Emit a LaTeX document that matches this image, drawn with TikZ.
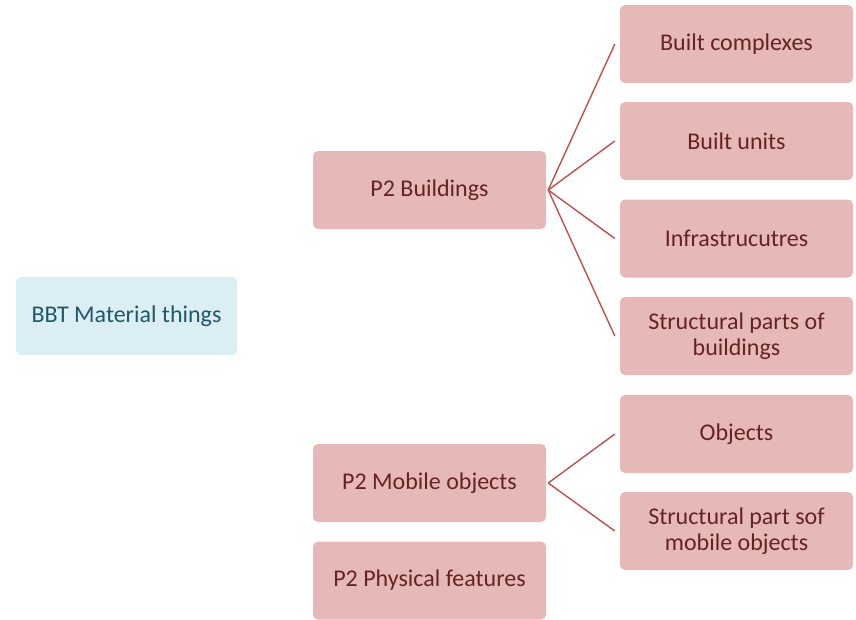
\documentclass[tikz,border=0pt]{standalone}
\usepackage{fontspec}
\setmainfont{Carlito}
\definecolor{pinkfill}{HTML}{E6B8B7}
\definecolor{pinktext}{HTML}{632523}
\definecolor{bluefill}{HTML}{DAEEF3}
\definecolor{bluetext}{HTML}{215868}
\definecolor{linered}{HTML}{C0504D}
\begin{document}
\begin{tikzpicture}[x=1pt,y=-1pt,
  box/.style={rectangle, rounded corners=5pt, minimum width=233pt, minimum height=78pt, align=center, inner sep=2pt, font=\fontsize{24}{26.5}\selectfont},
  pbox/.style={box, fill=pinkfill, text=pinktext},
  bbox/.style={box, fill=bluefill, text=bluetext, minimum width=221pt},
  conn/.style={draw=linered, line width=1.4pt}]
\useasboundingbox (0,0) rectangle (856,619);
\node[bbox] (root) at (126.5,316) {BBT Material things};
\node[pbox] (bld) at (429.5,190) {P2 Buildings};
\node[pbox] (mob) at (429.5,483) {P2 Mobile objects};
\begin{scope}
\clip (0,0) rectangle (856,619);
\node[pbox] (phy) at (429.5,580.5) {P2 Physical features};
\end{scope}
\node[pbox] (bc) at (736.5,44) {Built complexes};
\node[pbox] (bu) at (736.5,141) {Built units};
\node[pbox] (inf) at (736.5,238.5) {Infrastrucutres};
\node[pbox] (sp) at (736.5,336) {Structural parts of\\buildings};
\node[pbox] (obj) at (736.5,434) {Objects};
\node[pbox] (spm) at (736.5,531) {Structural part sof\\mobile objects};
\coordinate (bo) at ([xshift=2pt]bld.east);
\coordinate (mo) at ([xshift=2pt]mob.east);
\foreach \t in {bc,bu,inf,sp} \draw[conn] (bo) -- ([xshift=-5pt]\t.west);
\foreach \t in {obj,spm} \draw[conn] (mo) -- ([xshift=-5pt]\t.west);
\end{tikzpicture}
\end{document}
